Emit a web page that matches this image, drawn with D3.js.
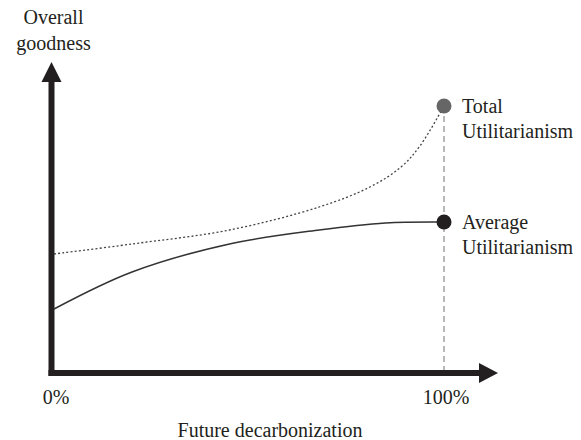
<!DOCTYPE html>
<html><head><meta charset="utf-8">
<script src="https://cdn.jsdelivr.net/npm/d3@7"></script>
<style>body{margin:0;background:#fff}svg{display:block}text{font-family:"Liberation Serif","Times New Roman",serif;fill:#231f20}</style>
</head><body>
<svg id="c" width="581" height="440"></svg>
<script>
const decarbTotal = [0, 20, 45, 68, 81, 89, 94, 100];
const totalUtil = [119, 129, 143, 166, 186, 206, 228, 267];
const decarbAverage = [0, 20, 45, 68, 85, 100];
const averageUtil = [64, 101, 129, 143, 150, 151];
const xTickLabels = ["0%", "100%"];
const xTickValues = [0, 100];
const seriesLabels = [["Total", "Utilitarianism"], ["Average", "Utilitarianism"]];
const yTitle = ["Overall", "goodness"];
const xTitle = "Future decarbonization";

const svg = d3.select("#c");
const x = d3.scaleLinear().domain([0, 100]).range([54, 444]);
const y = d3.scaleLinear().domain([0, 311]).range([373, 62]);
const ink = "#231f20";
const ax0 = 51.5, ay0 = 373;

const lastT = totalUtil.length - 1, lastA = averageUtil.length - 1;

// dashed vertical at 100%
svg.append("line").attr("x1", x(100)).attr("x2", x(100))
  .attr("y1", y(totalUtil[lastT])).attr("y2", ay0)
  .attr("stroke", "#8a8a8a").attr("stroke-width", 1.2).attr("stroke-dasharray", "6,4");

// axes
svg.append("line").attr("x1", ax0).attr("x2", ax0).attr("y1", y.range()[1] + 18).attr("y2", ay0 + 3)
  .attr("stroke", ink).attr("stroke-width", 6);
svg.append("line").attr("x1", ax0 - 3).attr("x2", 481).attr("y1", ay0).attr("y2", ay0)
  .attr("stroke", ink).attr("stroke-width", 6);
svg.append("path").attr("d", `M${ax0},${y.range()[1]} L${ax0-10},${y.range()[1]+20} L${ax0+10},${y.range()[1]+20} Z`).attr("fill", ink);
svg.append("path").attr("d", `M498,${ay0} L479,${ay0-10} L479,${ay0+10} Z`).attr("fill", ink);

const line = d3.line().x(d => x(d[0])).y(d => y(d[1])).curve(d3.curveCatmullRom.alpha(0.5));
svg.append("path").attr("d", line(decarbTotal.map((d,i)=>[d,totalUtil[i]])))
  .attr("fill","none").attr("stroke","#444").attr("stroke-width",1.3).attr("stroke-dasharray","2,2.2");
svg.append("path").attr("d", line(decarbAverage.map((d,i)=>[d,averageUtil[i]])))
  .attr("fill","none").attr("stroke","#333").attr("stroke-width",1.5);

svg.append("circle").attr("cx", x(decarbTotal[lastT])).attr("cy", y(totalUtil[lastT])).attr("r", 7.5).attr("fill", "#666");
svg.append("circle").attr("cx", x(decarbAverage[lastA])).attr("cy", y(averageUtil[lastA])).attr("r", 7.5).attr("fill", ink);

const fs = 20;
[[totalUtil[lastT], seriesLabels[0]], [averageUtil[lastA], seriesLabels[1]]].forEach(([v, lbl]) => {
  const t = svg.append("text").attr("x", 462).attr("y", y(v) + 7).attr("font-size", fs);
  lbl.forEach((s, i) => t.append("tspan").attr("x", 462).attr("dy", i ? 25 : 0).text(s));
});

xTickValues.forEach((v,i) => {
  svg.append("text").attr("x", x(v) + 2).attr("y", 404).attr("text-anchor","middle").attr("font-size", fs).text(xTickLabels[i]);
});

svg.append("text").attr("x", 270).attr("y", 437).attr("text-anchor","middle").attr("font-size", fs).text(xTitle);
const yt = svg.append("text").attr("x", 53.5).attr("y", 24).attr("text-anchor","middle").attr("font-size", fs);
yTitle.forEach((s,i) => yt.append("tspan").attr("x", 53.5).attr("dy", i ? 26 : 0).text(s));
</script>
</body></html>
